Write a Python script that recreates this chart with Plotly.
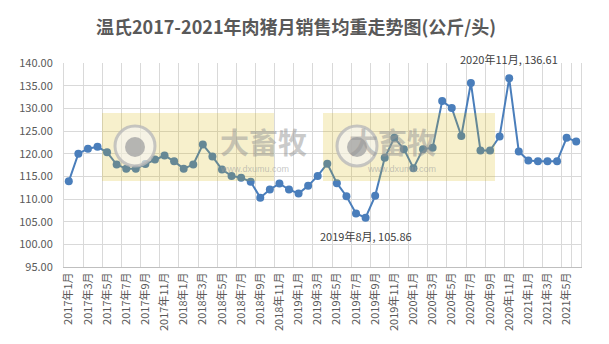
import plotly.graph_objects as go

months = [f"{y}年{m}月" for y in range(2017, 2022) for m in range(1, 13)][:54]
weights = [113.9, 120.0, 121.1, 121.5, 120.3, 117.6, 116.7, 116.7, 117.7, 118.7,
           119.6, 118.3, 116.7, 117.6, 122.0, 119.4, 116.5, 115.1, 114.7, 113.8,
           110.3, 112.1, 113.4, 112.1, 111.2, 112.9, 115.1, 117.8, 113.5, 110.6,
           106.8, 105.86, 110.7, 119.1, 123.5, 121.0, 116.8, 121.0, 121.3, 131.6,
           130.1, 123.9, 135.6, 120.7, 120.7, 123.8, 136.61, 120.5, 118.5, 118.3,
           118.3, 118.3, 123.5, 122.7]
tick_labels = months[::2]
y_ticks = [95, 100, 105, 110, 115, 120, 125, 130, 135, 140]
title = "温氏2017-2021年肉猪月销售均重走势图(公斤/头)"

W, H = 609, 344
L, R, T, B = 64, 28, 63, 77
PW, PH = W - L - R, H - T - B

def px(x):
    return (x - L) / PW

def py(y):
    return (H - B - y) / PH

fig = go.Figure()
fig.add_trace(go.Scatter(
    x=months, y=weights, mode="lines+markers",
    line=dict(color="#4A7EBB", width=2),
    marker=dict(color="#4A7EBB", size=8),
    hoverinfo="x+y", showlegend=False,
))

# annotations for max / min
i_max = weights.index(max(weights))
i_min = weights.index(min(weights))
fig.add_annotation(x=months[i_max], y=weights[i_max],
                   text=f"{months[i_max]}, {weights[i_max]:.2f}",
                   showarrow=False, yshift=19, xshift=0,
                   font=dict(size=11, color="#404040"))
fig.add_annotation(x=months[i_min], y=weights[i_min],
                   text=f"{months[i_min]}, {weights[i_min]:.2f}",
                   showarrow=False, yshift=-18, xshift=0,
                   font=dict(size=11, color="#404040"))

# watermarks
shapes = []
for (x0, x1, cx, tx) in [(102, 274, 135, 218), (323, 495, 357, 438)]:
    shapes.append(dict(type="rect", xref="paper", yref="paper",
                       x0=px(x0), x1=px(x1), y0=py(181), y1=py(113),
                       fillcolor="rgba(215,180,0,0.2)", line=dict(width=0),
                       layer="above"))
    shapes.append(dict(type="circle", xref="paper", yref="paper",
                       x0=px(cx - 20), x1=px(cx + 20), y0=py(166), y1=py(126),
                       fillcolor="rgba(245,245,245,0.6)",
                       line=dict(color="rgba(185,185,185,0.8)", width=3),
                       layer="above"))
    shapes.append(dict(type="circle", xref="paper", yref="paper",
                       x0=px(cx - 10), x1=px(cx + 10), y0=py(157), y1=py(137),
                       fillcolor="rgba(165,165,165,0.8)", line=dict(width=0),
                       layer="above"))
    fig.add_annotation(xref="paper", yref="paper", x=px(tx), y=py(141),
                       text="<b>大畜牧</b>", showarrow=False,
                       font=dict(size=29, color="rgba(150,150,150,0.5)",
                                 family="Noto Sans CJK SC"))
    fig.add_annotation(xref="paper", yref="paper", x=px(tx), y=py(169),
                       text="www.dxumu.com", showarrow=False,
                       font=dict(size=9, color="rgba(160,160,160,0.6)",
                                 family="Arial, Liberation Sans"))

fig.update_layout(
    width=W, height=H,
    margin=dict(l=L, r=R, t=T, b=B),
    paper_bgcolor="white", plot_bgcolor="white",
    font=dict(family="Noto Sans CJK SC, Liberation Sans, sans-serif", color="#595959"),
    title=dict(text=f"<b>{title}</b>", x=296 / W, xanchor="center",
               y=1 - 28 / H, yanchor="middle",
               font=dict(size=18, color="#595959")),
    shapes=shapes,
)
fig.update_xaxes(
    type="category", tickmode="array", tickvals=tick_labels, ticktext=tick_labels,
    tickangle=-90, tickson="boundaries", showgrid=True, gridcolor="#D9D9D9",
    gridwidth=1, showline=True, linecolor="#BFBFBF", linewidth=1,
    ticks="", tickfont=dict(size=11, color="#595959"),
    range=[-0.5, len(months) - 0.5],
)
fig.update_yaxes(
    range=[95, 140], tickvals=y_ticks, ticktext=[f"{v:.2f}" for v in y_ticks],
    showgrid=True, gridcolor="#D9D9D9", gridwidth=1, zeroline=False,
    showline=True, mirror=True, linecolor="#D9D9D9", linewidth=1,
    ticks="", ticklabelstandoff=8, tickfont=dict(size=11, color="#595959"),
)

fig.write_html("out.html")
